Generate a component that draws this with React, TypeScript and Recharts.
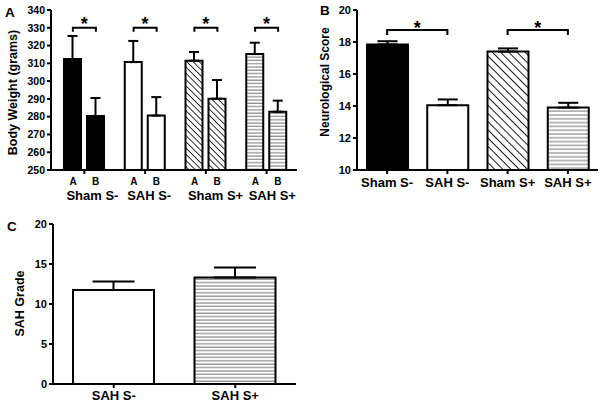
import React from 'react';
import { BarChart, Bar, XAxis, YAxis, ErrorBar, Cell, ReferenceLine } from 'recharts';

const FONT = '"Liberation Sans", Arial, Helvetica, sans-serif';

// ---------- Panel A : body weight ----------
const groupsA = ['Sham S-', 'SAH S-', 'Sham S+', 'SAH S+'];
const subLabelsA = ['A', 'B'];
const weightA = [312.4, 310.7, 311.5, 315.2];
const weightAErr = [13.0, 11.9, 4.9, 6.4];
const weightB = [280.4, 280.6, 290.1, 282.8];
const weightBErr = [10.1, 10.4, 10.5, 6.2];
const ticksA = [250, 260, 270, 280, 290, 300, 310, 320, 330, 340];
const sigGroupsA = ['Sham S-', 'SAH S-', 'Sham S+', 'SAH S+'];
const sigLevelA = 330;

// ---------- Panel B : neurological score ----------
const groupsB = ['Sham S-', 'SAH S-', 'Sham S+', 'SAH S+'];
const scoreB = [17.85, 14.05, 17.4, 13.9];
const scoreBErr = [0.2, 0.36, 0.2, 0.3];
const ticksB = [10, 12, 14, 16, 18, 20];
const sigPairsB = [['Sham S-', 'SAH S-'], ['Sham S+', 'SAH S+']];
const sigLevelB = 18.75;

// ---------- Panel C : SAH grade ----------
const groupsC = ['SAH S-', 'SAH S+'];
const gradeC = [11.75, 13.3];
const gradeCErr = [1.05, 1.25];
const ticksC = [0, 5, 10, 15, 20];

// fills (style)
const FILLS_A = ['#000000', '#ffffff', 'url(#diagA)', 'url(#horA)'];
const FILLS_B = ['#000000', '#ffffff', 'url(#diagB)', 'url(#horB)'];
const FILLS_C = ['#ffffff', 'url(#horC)'];

const dataA = groupsA.map((g, i) => ({
  group: g,
  a: weightA[i],
  aErr: [0, weightAErr[i]],
  b: weightB[i],
  bErr: [0, weightBErr[i]],
}));
const dataB = groupsB.map((g, i) => ({ group: g, v: scoreB[i], err: [0, scoreBErr[i]] }));
const dataC = groupsC.map((g, i) => ({ group: g, v: gradeC[i], err: [0, gradeCErr[i]] }));

const axisStyle = { stroke: '#000', strokeWidth: 2 };
const tickFont = (size: number) => ({ fill: '#000', fontSize: size, fontWeight: 700, fontFamily: FONT });

function TickA(props: any) {
  const { x, y, payload } = props;
  return (
    <g>
      <text x={x - 11.25} y={y + 9} textAnchor="middle" fontSize={10} fontWeight={700} fontFamily={FONT} fill="#000">
        {subLabelsA[0]}
      </text>
      <text x={x + 11.25} y={y + 9} textAnchor="middle" fontSize={10} fontWeight={700} fontFamily={FONT} fill="#000">
        {subLabelsA[1]}
      </text>
      <text x={x - 18} y={y + 23.5} textAnchor="start" fontSize={13} fontWeight={700} fontFamily={FONT} fill="#000">
        {payload.value}
      </text>
    </g>
  );
}

const bracketShape = (half: number, drop: number, starDy: number) => (p: any) => {
  const { x1, x2, y1 } = p;
  const l = Math.min(x1, x2) - half;
  const r = Math.max(x1, x2) + half;
  return (
    <g>
      <path d={`M${l},${y1 + drop}V${y1}H${r}V${y1 + drop}`} fill="none" stroke="#000" strokeWidth={2} />
      <text x={(l + r) / 2} y={y1 + starDy} textAnchor="middle" fontSize={18} fontWeight={700} fontFamily={FONT} fill="#000">
        *
      </text>
    </g>
  );
};

export default function App() {
  return (
    <div style={{ position: 'absolute', left: 0, top: 0, width: 604, height: 406, background: '#fff' }}>
      <svg width={0} height={0} style={{ position: 'absolute' }}>
        <defs>
          <pattern id="diagA" patternUnits="userSpaceOnUse" width={4.4} height={4.4} patternTransform="rotate(-45)">
            <rect width={4.4} height={4.4} fill="#fff" />
            <line x1={0} y1={0} x2={0} y2={4.4} stroke="#000" strokeWidth={1.6} />
          </pattern>
          <pattern id="diagB" patternUnits="userSpaceOnUse" width={5.8} height={5.8} patternTransform="rotate(-45)">
            <rect width={5.8} height={5.8} fill="#fff" />
            <line x1={0} y1={0} x2={0} y2={5.8} stroke="#000" strokeWidth={1.8} />
          </pattern>
          <pattern id="horA" patternUnits="userSpaceOnUse" width={10} height={3.3}>
            <rect width={10} height={3.3} fill="#fff" />
            <line x1={0} y1={1} x2={10} y2={1} stroke="#8a8a8a" strokeWidth={1.2} />
          </pattern>
          <pattern id="horB" patternUnits="userSpaceOnUse" width={10} height={3.8}>
            <rect width={10} height={3.8} fill="#fff" />
            <line x1={0} y1={1} x2={10} y2={1} stroke="#8a8a8a" strokeWidth={1.2} />
          </pattern>
          <pattern id="horC" patternUnits="userSpaceOnUse" width={10} height={3.4}>
            <rect width={10} height={3.4} fill="#fff" />
            <line x1={0} y1={1} x2={10} y2={1} stroke="#8a8a8a" strokeWidth={1.2} />
          </pattern>
        </defs>
      </svg>

      {/* Panel A */}
      <div style={{ position: 'absolute', left: 0, top: 0 }}>
        <BarChart width={300} height={210} data={dataA} margin={{ top: 10, right: 3, bottom: 0, left: 0 }} barGap={6} barSize={17}>
          <XAxis
            dataKey="group"
            height={40}
            interval={0}
            tickSize={4}
            tick={<TickA />}
            axisLine={axisStyle}
            tickLine={axisStyle}
            padding={{ left: 3, right: 0 }}
          />
          <YAxis
            width={51}
            type="number"
            domain={[250, 340]}
            ticks={ticksA}
            interval={0}
            tickSize={4}
            tickMargin={2}
            tick={tickFont(10.5)}
            axisLine={axisStyle}
            tickLine={axisStyle}
          />
          <Bar dataKey="a" stroke="#000" strokeWidth={2} isAnimationActive={false}>
            {dataA.map((d, i) => (
              <Cell key={d.group} fill={FILLS_A[i]} />
            ))}
            <ErrorBar dataKey="aErr" width={5} stroke="#000" strokeWidth={2} direction="y" />
          </Bar>
          <Bar dataKey="b" stroke="#000" strokeWidth={2} isAnimationActive={false}>
            {dataA.map((d, i) => (
              <Cell key={d.group} fill={FILLS_A[i]} />
            ))}
            <ErrorBar dataKey="bErr" width={5} stroke="#000" strokeWidth={2} direction="y" />
          </Bar>
          {sigGroupsA.map((g) => (
            <ReferenceLine
              key={g}
              segment={[{ x: g, y: sigLevelA }, { x: g, y: sigLevelA }]}
              ifOverflow="visible"
              shape={bracketShape(11.5, 4, 2)}
            />
          ))}
        </BarChart>
      </div>

      {/* Panel B */}
      <div style={{ position: 'absolute', left: 300, top: 0 }}>
        <BarChart width={304} height={210} data={dataB} margin={{ top: 10, right: 6, bottom: 0, left: 0 }} barSize={41}>
          <XAxis
            dataKey="group"
            height={40}
            interval={0}
            tickSize={4}
            tickMargin={4}
            tick={tickFont(13)}
            axisLine={axisStyle}
            tickLine={axisStyle}
          />
          <YAxis
            width={57}
            type="number"
            domain={[10, 20]}
            ticks={ticksB}
            interval={0}
            tickSize={4}
            tickMargin={2}
            tick={tickFont(11)}
            axisLine={axisStyle}
            tickLine={axisStyle}
          />
          <Bar dataKey="v" stroke="#000" strokeWidth={2} isAnimationActive={false}>
            {dataB.map((d, i) => (
              <Cell key={d.group} fill={FILLS_B[i]} />
            ))}
            <ErrorBar dataKey="err" width={10} stroke="#000" strokeWidth={2} direction="y" />
          </Bar>
          {sigPairsB.map((pr) => (
            <ReferenceLine
              key={pr[0]}
              segment={[{ x: pr[0], y: sigLevelB }, { x: pr[1], y: sigLevelB }]}
              ifOverflow="visible"
              shape={bracketShape(0, 5, 4)}
            />
          ))}
        </BarChart>
      </div>

      {/* Panel C */}
      <div style={{ position: 'absolute', left: 0, top: 200 }}>
        <BarChart width={300} height={206} data={dataC} margin={{ top: 24, right: 4, bottom: 0, left: 0 }} barSize={81}>
          <XAxis
            dataKey="group"
            height={22}
            interval={0}
            tickSize={4}
            tickMargin={3}
            tick={tickFont(13)}
            axisLine={axisStyle}
            tickLine={axisStyle}
          />
          <YAxis
            width={53}
            type="number"
            domain={[0, 20]}
            ticks={ticksC}
            interval={0}
            tickSize={4}
            tickMargin={2}
            tick={tickFont(11)}
            axisLine={axisStyle}
            tickLine={axisStyle}
          />
          <Bar dataKey="v" stroke="#000" strokeWidth={2} isAnimationActive={false}>
            {dataC.map((d, i) => (
              <Cell key={d.group} fill={FILLS_C[i]} />
            ))}
            <ErrorBar dataKey="err" width={21} stroke="#000" strokeWidth={2} direction="y" />
          </Bar>
        </BarChart>
      </div>

      {/* titles and panel letters */}
      <svg width={604} height={406} style={{ position: 'absolute', left: 0, top: 0, pointerEvents: 'none' }}>
        <g fontFamily={FONT} fontWeight={700} fill="#000">
          <text x={5} y={17} fontSize={13.5}>A</text>
          <text x={320} y={15} fontSize={13.5}>B</text>
          <text x={7} y={231} fontSize={13.5}>C</text>
          <text transform="translate(16.5,92.5) rotate(-90)" textAnchor="middle" fontSize={12.5}>Body Weight (grams)</text>
          <text transform="translate(329,82) rotate(-90)" textAnchor="middle" fontSize={12}>Neurological Score</text>
          <text transform="translate(24,303.5) rotate(-90)" textAnchor="middle" fontSize={12.5}>SAH Grade</text>
        </g>
      </svg>
    </div>
  );
}
